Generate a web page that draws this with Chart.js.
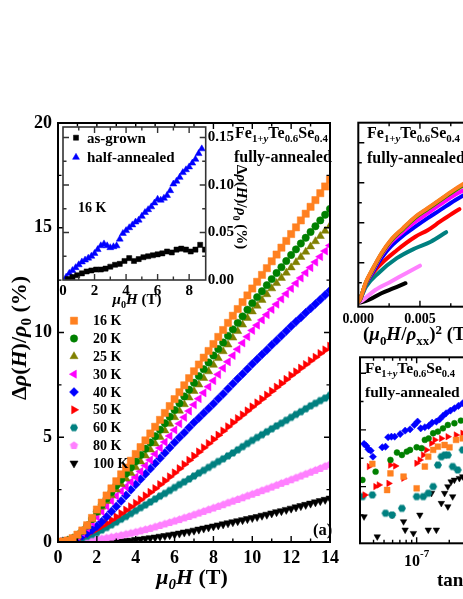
<!DOCTYPE html>
<html>
<head>
<meta charset="utf-8">
<script src="https://cdn.jsdelivr.net/npm/chart.js@4.4.0/dist/chart.umd.min.js"></script>
<style>
body { margin:0; width:463px; height:599px; overflow:hidden; position:relative; background:#fff;
  font-family:"Liberation Serif","Times New Roman",serif; font-weight:bold; }
canvas { position:absolute; }
.t { position:absolute; white-space:nowrap; line-height:1; color:#000; }
.t sub { font-size:0.68em; vertical-align:-0.36em; line-height:0; }
.t sup { font-size:0.68em; vertical-align:0.5em; line-height:0; }
</style>
</head>
<body>
<canvas id="main" width="345" height="599" style="left:0;top:0"></canvas>
<canvas id="inset" width="230" height="210" style="left:40px;top:100px"></canvas>
<canvas id="kohler" width="243" height="240" style="left:320px;top:100px"></canvas>
<canvas id="hall" width="243" height="259" style="left:320px;top:340px"></canvas>

<div class="t" style="left:19px;top:338px;font-size:22px;transform:translate(-50%,-50%) rotate(-90deg)">&Delta;<i>&rho;</i>(<i>H</i>)/<i>&rho;</i><sub>0</sub> (%)</div>
<div class="t" style="left:192px;top:566px;font-size:22px;transform:translateX(-50%)"><i>&mu;</i><sub><i>0</i></sub><i>H</i> (T)</div>
<div class="t" style="left:313px;top:522px;font-size:16.5px">(a)</div>
<div class="t" style="left:235px;top:125px;font-size:16px">Fe<sub>1+<i>y</i></sub>Te<sub>0.6</sub>Se<sub>0.4</sub></div>
<div class="t" style="left:234px;top:149px;font-size:16px">fully-annealed</div>
<div class="t" style="left:137px;top:292px;font-size:15px;transform:translateX(-50%)"><i>&mu;</i><sub>0</sub><i>H</i> (T)</div>
<div class="t" style="left:241px;top:207px;font-size:15px;transform:translate(-50%,-50%) rotate(90deg)">&Delta;<i>&rho;</i>(<i>H</i>)/<i>&rho;</i><sub>0</sub> (%)</div>
<div class="t" style="left:78px;top:201px;font-size:14px">16 K</div>
<div class="t" style="left:367px;top:125px;font-size:16px">Fe<sub>1+<i>y</i></sub>Te<sub>0.6</sub>Se<sub>0.4</sub></div>
<div class="t" style="left:367px;top:150px;font-size:16px">fully-annealed</div>
<div class="t" style="left:363px;top:324px;font-size:19px">(<i>&mu;</i><sub>0</sub><i>H</i>/<i>&rho;</i><sub>xx</sub>)<sup>2</sup> (T/&mu;&Omega; cm)<sup>2</sup></div>
<div class="t" style="left:365px;top:360px;font-size:15.5px">Fe<sub>1+<i>y</i></sub>Te<sub>0.6</sub>Se<sub>0.4</sub></div>
<div class="t" style="left:365px;top:384px;font-size:15.5px">fully-annealed</div>
<div class="t" style="left:437px;top:570px;font-size:19px">tan</div>

<script>
'use strict'
// main panel: field (T) and MR (%) for each temperature
const fieldT = [0,0.25,0.5,0.75,1,1.25,1.5,1.75,2,2.25,2.5,2.75,3,3.25,3.5,3.75,4,4.25,4.5,4.75,5,5.25,5.5,5.75,
  6,6.25,6.5,6.75,7,7.25,7.5,7.75,8,8.25,8.5,8.75,9,9.25,9.5,9.75,10,10.25,10.5,10.75,11,11.25,11.5,11.75,
  12,12.25,12.5,12.75,13,13.25,13.5,13.75,14];
const tempLabels = ['16 K','20 K','25 K','30 K','40 K','50 K','60 K','80 K','100 K'];
const r16 = [0,0.02,0.07,0.18, 0.35,0.55,0.8,1.15, 1.55,1.88,2.22,2.56, 2.9,3.23,3.55,3.88, 4.2,4.53,4.85,5.18,
  5.5,5.83,6.16,6.49, 6.82,7.15,7.48,7.82, 8.15,8.47,8.8,9.12, 9.45,9.79,10.12,10.46, 10.8,11.12,11.45,11.77,
  12.1,12.42,12.75,13.07, 13.4,13.72,14.05,14.37, 14.7,15.02,15.35,15.67, 16.0,16.32,16.65,16.97, 17.3];
const r20 = [0,0.02,0.07,0.17, 0.33,0.53,0.78,1.1, 1.45,1.77,2.08,2.39, 2.7,2.98,3.27,3.56, 3.85,4.15,4.45,4.75,
  5.05,5.36,5.67,5.98, 6.3,6.62,6.95,7.27, 7.6,7.92,8.25,8.57, 8.9,9.21,9.52,9.84, 10.15,10.46,10.77,11.09,
  11.4,11.69,11.97,12.26, 12.55,12.84,13.12,13.41, 13.7,13.97,14.25,14.52, 14.8,15.07,15.35,15.62, 15.9];
const r25 = [0,0.02,0.07,0.17, 0.32,0.52,0.77,1.07, 1.4,1.68,1.95,2.22, 2.5,2.76,3.02,3.29, 3.56,3.84,4.12,4.41,
  4.7,5.01,5.32,5.64, 5.95,6.26,6.57,6.89, 7.2,7.51,7.82,8.14, 8.45,8.77,9.1,9.42, 9.75,10.06,10.37,10.69,
  11.0,11.27,11.55,11.82, 12.1,12.35,12.6,12.85, 13.1,13.35,13.6,13.85, 14.1,14.35,14.6,14.85, 15.1];
const r30 = [0,0.02,0.06,0.15, 0.28,0.45,0.67,0.93, 1.2,1.46,1.71,1.96, 2.2,2.42,2.64,2.87, 3.1,3.37,3.65,3.92,
  4.2,4.49,4.77,5.06, 5.35,5.65,5.95,6.25, 6.55,6.84,7.12,7.41, 7.7,8.0,8.3,8.6, 8.9,9.2,9.5,9.8,
  10.1,10.35,10.6,10.85, 11.1,11.35,11.6,11.85, 12.1,12.35,12.6,12.85, 13.1,13.36,13.62,13.89, 14.15];
const r40 = [0,0.03,0.07,0.13, 0.2,0.3,0.42,0.57, 0.75,0.97,1.2,1.45, 1.7,1.96,2.22,2.49, 2.75,3.0,3.25,3.5,
  3.75,4.0,4.25,4.5, 4.75,4.99,5.22,5.46, 5.7,5.92,6.15,6.37, 6.6,6.84,7.07,7.31, 7.55,7.79,8.02,8.26,
  8.5,8.72,8.95,9.17, 9.4,9.62,9.85,10.07, 10.3,10.51,10.72,10.94, 11.15,11.36,11.57,11.79, 12.0];
const r50 = [0,0.01,0.04,0.1, 0.18,0.27,0.38,0.5, 0.62,0.76,0.9,1.05, 1.2,1.36,1.52,1.68, 1.85,2.02,2.2,2.37,
  2.55,2.74,2.92,3.11, 3.3,3.5,3.7,3.9, 4.1,4.3,4.5,4.7, 4.9,5.1,5.3,5.5, 5.7,5.89,6.07,6.26,
  6.45,6.64,6.82,7.01, 7.2,7.39,7.57,7.76, 7.95,8.12,8.3,8.47, 8.65,8.82,9.0,9.17, 9.35];
const r60 = [0,0.01,0.03,0.07, 0.12,0.19,0.27,0.36, 0.45,0.57,0.69,0.82, 0.95,1.09,1.22,1.36, 1.5,1.64,1.77,1.91,
  2.05,2.19,2.32,2.46, 2.6,2.74,2.87,3.01, 3.15,3.29,3.42,3.56, 3.7,3.84,3.97,4.11, 4.25,4.4,4.55,4.7,
  4.85,4.99,5.12,5.26, 5.4,5.54,5.67,5.81, 5.95,6.09,6.22,6.36, 6.5,6.62,6.75,6.87, 7.0];
const r80 = [0,0,0.01,0.02, 0.03,0.05,0.07,0.09, 0.12,0.15,0.19,0.23, 0.27,0.32,0.37,0.42, 0.47,0.53,0.59,0.65,
  0.72,0.79,0.86,0.93, 1.0,1.07,1.15,1.22, 1.3,1.38,1.46,1.54, 1.62,1.7,1.78,1.87, 1.95,2.03,2.11,2.2,
  2.28,2.36,2.45,2.53, 2.62,2.71,2.8,2.88, 2.97,3.06,3.15,3.24, 3.33,3.42,3.51,3.61, 3.7];
const r100 = [0,0,-0.01,-0.01, -0.01,-0.01,-0.01,0, 0,0,0.01,0.01, 0.02,0.03,0.05,0.07, 0.1,0.13,0.16,0.19,
  0.22,0.26,0.29,0.33, 0.37,0.41,0.46,0.5, 0.55,0.6,0.65,0.7, 0.75,0.8,0.85,0.9, 0.95,1.0,1.05,1.1,
  1.15,1.2,1.26,1.31, 1.37,1.43,1.48,1.54, 1.6,1.66,1.72,1.78, 1.84,1.9,1.96,2.02, 2.08];
const mainSeries = [r16, r20, r25, r30, r40, r50, r60, r80, r100];

// inset: 16 K, as-grown and half-annealed
const insetLabels = ['as-grown', 'half-annealed'];
const insetYTicks = [0, 0.025, 0.05, 0.075, 0.1, 0.125, 0.15];
const grownField = [0.3,0.6,0.9,1.2,1.5,1.8,2.1,2.4,2.7,3.0,3.3,3.6,3.9,4.2,4.5,4.8,5.1,5.4,5.7,6.0,
  6.3,6.6,6.9,7.2,7.5,7.8,8.1,8.4,8.7,9.0];
const asGrown = [0.001,0.003,0.005,0.007,0.009,0.010,0.011,0.011,0.012,0.014,0.016,0.017,0.020,0.023,0.020,
  0.022,0.024,0.025,0.026,0.027,0.028,0.030,0.029,0.032,0.033,0.032,0.030,0.032,0.037,0.032];
const halfField = [0.2,0.4,0.6,0.8,1.0,1.2,1.4,1.6,1.8,2.0,2.2,2.4,2.6,2.8,3.0,3.2,3.4,3.6,3.8,4.0,4.2,4.4,
  4.6,4.8,5.0,5.2,5.4,5.6,5.8,6.0,6.2,6.4,6.6,6.8,7.0,7.2,7.4,7.6,7.8,8.0,8.2,8.4,8.6,8.8];
const halfAnnealed = [0.003,0.007,0.010,0.013,0.016,0.019,0.021,0.023,0.025,0.028,0.032,0.036,0.038,0.036,0.034,
  0.035,0.036,0.043,0.049,0.052,0.055,0.058,0.061,0.063,0.067,0.071,0.074,0.077,0.081,0.085,0.084,0.086,
  0.089,0.094,0.101,0.104,0.108,0.113,0.116,0.119,0.123,0.127,0.133,0.138];

// upper right: MR vs (mu0H/rho_xx)^2
const kohlerX = [0,0.000125,0.000625,0.001125,0.001875,0.002625,0.003625,0.004625,0.005625,0.006625,0.00785,0.0095];
const k16 = [0.1,0.3,2.1,3.3,4.95,6.25,7.45,8.6,9.45,10.3,11.35,12.6];
const k20 = [0.1,0.3,2.05,3.25,4.9,6.2,7.4,8.55,9.4,10.25,11.3,12.5];
const k25 = [0.1,0.3,2.0,3.2,4.85,6.15,7.35,8.5,9.35,10.2,11.25,12.4];
const k30 = [0.1,0.28,1.95,3.1,4.75,6.0,7.1,8.1,8.95,9.8,10.8,11.8];
const k40 = [0.1,0.27,1.9,2.95,4.45,5.6,6.7,7.6,8.45,9.25,10.25,11.4];
const k50x = [0,0.000125,0.000625,0.001625,0.003125,0.004625,0.005625,0.006625,0.00785,0.0082];
const k50 = [0.1,0.27,1.95,3.6,5.25,6.6,7.25,8.1,9.1,9.35];
const k60x = [0,0.000125,0.000625,0.001625,0.003125,0.004625,0.005875,0.007125];
const k60 = [0.1,0.27,1.6,2.95,4.45,5.45,6.1,7.05];
const k80x = [0,0.000375,0.001375,0.002625,0.003875,0.005];
const k80 = [0,0.27,1.27,2.1,2.95,3.7];
const k100x = [0,0.00025,0.000875,0.001875,0.002875,0.003825];
const k100 = [0,0.05,0.3,0.95,1.45,1.95];

// lower right: scattered points vs tan (log axis)
const hallYTicks = [0, 1.5, 3, 4.5, 6, 7.5, 9];
const h16x = [3.9e-8,5.34e-8,5.73e-8,7.57e-8,1.0e-7,1.19e-7,1.28e-7,1.42e-7,1.57e-7,1.81e-7,2.01e-7,2.31e-7,2.66e-7];
const h16y = [4.20,2.82,3.70,3.53,2.91,4.06,4.58,4.94,5.11,5.20,5.08,5.47,5.55];
const h20x = [3.16e-8,4.18e-8,5.73e-8,6.58e-8,7.31e-8,8.11e-8,8.69e-8,1.0e-7,1.11e-7,1.19e-7,1.29e-7,1.42e-7,1.57e-7,1.75e-7,1.94e-7,2.23e-7,2.56e-7];
const h20y = [3.35,3.79,4.41,4.80,4.67,4.85,4.94,5.08,5.03,5.47,5.55,5.82,5.91,6.08,6.26,6.35,6.49];
const h40x = [3.27e-8,3.44e-8,3.59e-8,3.77e-8,3.95e-8,4.81e-8,5.16e-8,5.45e-8,5.85e-8,6.27e-8,7.05e-8,7.83e-8,8.69e-8,9.53e-8,
  1.02e-7,1.09e-7,1.19e-7,1.29e-7,1.39e-7,1.52e-7,1.63e-7,1.75e-7,1.87e-7,2.05e-7,2.23e-7,2.43e-7,2.66e-7];
const h40y = [5.26,5.15,4.97,4.90,4.58,5.08,5.11,5.61,5.64,5.64,5.78,5.96,6.03,6.26,6.44,6.08,6.14,6.21,6.38,6.44,6.56,6.74,6.88,7.02,7.14,7.27,7.41];
const h50x = [3.32e-8,3.64e-8,4.18e-8,4.49e-8,5.52e-8,5.73e-8,6.36e-8,7.57e-8,1.0e-7,1.07e-7,1.15e-7,1.23e-7,1.37e-7,1.47e-7,1.69e-7,1.94e-7,2.31e-7,2.66e-7];
const h50y = [2.56,4.06,3.0,3.09,3.17,4.14,4.09,3.44,4.23,4.41,4.67,4.94,5.29,5.47,5.55,5.64,5.73,5.82];
const h60x = [3.16e-8,3.9e-8,5.16e-8,5.93e-8,7.31e-8,1.0e-7,1.15e-7,1.28e-7,1.42e-7,1.57e-7,1.69e-7,1.81e-7,1.94e-7,2.15e-7,2.39e-7,2.66e-7];
const h60y = [2.47,2.56,1.59,1.50,1.85,2.47,2.47,2.65,3.00,4.14,4.58,4.67,4.67,4.06,3.88,4.94];
const h100x = [3.27e-8,4.33e-8,5.93e-8,7.57e-8,7.83e-8,9.33e-8,1.07e-7,1.28e-7,1.37e-7,1.52e-7,1.69e-7,1.81e-7,1.94e-7,1.94e-7,2.08e-7,2.15e-7,2.23e-7,2.48e-7,2.66e-7];
const h100y = [1.41,0.35,1.50,1.15,0.71,0.53,1.50,0.71,2.65,0.71,2.12,2.65,3.00,1.94,3.26,2.47,3.35,3.44,3.53];

const family = '"Liberation Serif", "Times New Roman", serif';
const tempColors = ['#FF8020','#008000','#808000','#FF00FF','#0000FF','#FF0000','#008080','#FF80FF','#000000'];

function polyMarker(sides, color, r, rot) {
  const c = document.createElement('canvas');
  const s = Math.ceil(r * 2 + 2);
  c.width = s; c.height = s;
  const g = c.getContext('2d');
  g.fillStyle = color;
  g.beginPath();
  for (let k = 0; k < sides; k++) {
    const a = rot + k * 2 * Math.PI / sides;
    const px = s / 2 + r * Math.cos(a), py = s / 2 + r * Math.sin(a);
    if (k) g.lineTo(px, py); else g.moveTo(px, py);
  }
  g.closePath();
  g.fill();
  return c;
}
const markerStyle = ['rect','circle','triangle','triangle','rectRot','triangle',
  polyMarker(6, '#008080', 4, 0), polyMarker(5, '#FF80FF', 4.3, -Math.PI / 2), 'triangle'];
const markerRot = [0,0,0,-90,0,90,0,0,180];
const markerRadius = [5.1,3.7,4.7,4.7,4.5,4.7,4,4.3,4.7];

function pts(xs, ys) {
  return xs.map((v, j) => ({x: v, y: ys[j]}));
}

function framePlugin(o) {
  return {
    id: 'frame',
    beforeDatasetsDraw(chart) {
      if (!o.fill) return;
      const a = chart.chartArea, g = chart.ctx;
      g.save();
      g.fillStyle = o.fill;
      g.fillRect(a.left, a.top, a.right - a.left, a.bottom - a.top);
      g.restore();
    },
    afterDraw(chart) {
      const a = chart.chartArea, g = chart.ctx, sx = chart.scales.x, sy = chart.scales.y;
      g.save();
      g.strokeStyle = o.color || '#000';
      g.lineWidth = 1.4;
      g.beginPath();
      sx.ticks.forEach(t => {
        if (o.skipX && o.skipX(t.value)) return;
        const p = sx.getPixelForValue(t.value);
        if (p < a.left + 2 || p > a.right - 2) return;
        const L = o.majorX(t.value) ? 6 : 3.5;
        g.moveTo(p, a.bottom); g.lineTo(p, a.bottom - L);
        g.moveTo(p, a.top); g.lineTo(p, a.top + L);
      });
      sy.ticks.forEach(t => {
        const p = sy.getPixelForValue(t.value);
        if (p < a.top + 2 || p > a.bottom - 2) return;
        const L = o.majorY(t.value) ? 6 : 3.5;
        g.moveTo(a.left, p); g.lineTo(a.left + L, p);
        g.moveTo(a.right, p); g.lineTo(a.right - L, p);
      });
      g.stroke();
      g.lineWidth = o.lw || 1.5;
      g.strokeRect(a.left, a.top, a.right - a.left, a.bottom - a.top);
      g.restore();
    }
  };
}

function markerLegend(o) {
  return {
    id: 'markerLegend',
    afterDraw(chart) {
      const g = chart.ctx;
      chart.data.datasets.forEach((ds, i) => {
        const y = o.top + i * o.step;
        g.save();
        g.fillStyle = ds.pointBackgroundColor;
        g.strokeStyle = ds.pointBorderColor;
        g.lineWidth = 0.5;
        Chart.helpers.drawPoint(g, {pointStyle: ds.pointStyle, radius: ds.pointRadius,
          rotation: ds.pointRotation || 0, borderWidth: 0.5}, o.markX, y);
        g.fillStyle = '#000';
        g.font = 'bold ' + o.size + 'px ' + family;
        g.textBaseline = 'middle';
        g.fillText(ds.label, o.textX, y + 1);
        g.restore();
      });
    }
  };
}

const powerLabels = {
  id: 'powerLabels',
  afterDraw(chart) {
    const sx = chart.scales.x, a = chart.chartArea, g = chart.ctx;
    g.save();
    g.fillStyle = '#000';
    sx.ticks.forEach(t => {
      const e = Math.log10(t.value);
      if (Math.abs(e - Math.round(e)) > 1e-6) return;
      const p = sx.getPixelForValue(t.value);
      if (p < a.left || p > a.right) return;
      const sup = String(Math.round(e));
      g.font = 'bold 16px ' + family;
      const w1 = g.measureText('10').width;
      g.font = 'bold 11px ' + family;
      const w2 = g.measureText(sup).width;
      const x0 = p - (w1 + w2) / 2;
      g.font = 'bold 16px ' + family;
      g.fillText('10', x0, a.bottom + 22.7);
      g.font = 'bold 11px ' + family;
      g.fillText(sup, x0 + w1, a.bottom + 14);
    });
    g.restore();
  }
};

function axis(extra) {
  return Object.assign({
    grid: {display: false, drawTicks: false},
    border: {display: false}
  }, extra);
}
function tickOpts(size, extra) {
  return Object.assign({autoSkip: false, maxRotation: 0, color: '#000',
    font: {family: family, size: size, weight: 'bold'}}, extra);
}
const baseOptions = {
  responsive: false, animation: false, devicePixelRatio: 1,
  plugins: {legend: {display: false}, tooltip: {enabled: false}}
};

// main panel
new Chart(document.getElementById('main'), {
  type: 'scatter',
  data: {
    datasets: tempLabels.map((lab, i) => ({
      label: lab,
      data: pts(fieldT, mainSeries[i]),
      pointStyle: markerStyle[i],
      pointRotation: markerRot[i],
      pointRadius: markerRadius[i],
      pointBackgroundColor: tempColors[i],
      pointBorderColor: tempColors[i],
      pointBorderWidth: 0.5
    }))
  },
  options: Object.assign({}, baseOptions, {
    layout: {padding: {top: 123, right: 12, left: 0, bottom: 0}},
    scales: {
      x: axis({type: 'linear', min: 0, max: 14, afterFit: s => { s.height = 57; },
        ticks: tickOpts(18, {stepSize: 1, padding: 6, callback: v => (v % 2 === 0 ? v : '')})}),
      y: axis({type: 'linear', min: 0, max: 20, afterFit: s => { s.width = 58; },
        ticks: tickOpts(18, {stepSize: 2.5, padding: 6, callback: v => (v % 5 === 0 ? v : '')})})
    }
  }),
  plugins: [
    framePlugin({lw: 2, majorX: v => v % 2 === 0, majorY: v => v % 5 === 0}),
    markerLegend({top: 320.7, step: 17.83, markX: 74, textX: 93, size: 14})
  ]
});

// inset
new Chart(document.getElementById('inset'), {
  type: 'scatter',
  data: {
    datasets: [
      {label: insetLabels[0], data: pts(grownField, asGrown), pointStyle: 'rect', pointRadius: 3.6,
        pointBackgroundColor: '#000000', pointBorderColor: '#000000', pointBorderWidth: 0.5},
      {label: insetLabels[1], data: pts(halfField, halfAnnealed), pointStyle: 'triangle', pointRadius: 4,
        pointBackgroundColor: '#0000FF', pointBorderColor: '#0000FF', pointBorderWidth: 0.5}
    ]
  },
  options: Object.assign({}, baseOptions, {
    layout: {padding: {top: 27, right: 0, left: 23, bottom: 0}},
    scales: {
      x: axis({type: 'linear', min: 0, max: 9.05, afterFit: s => { s.height = 30; },
        ticks: tickOpts(15, {stepSize: 1, padding: 2, callback: v => (v % 2 === 0 ? v : '')})}),
      y: axis({type: 'linear', position: 'right', min: 0, max: 0.161, afterFit: s => { s.width = 64.3; },
        afterBuildTicks: s => { s.ticks = insetYTicks.map(v => ({value: v})); },
        ticks: tickOpts(15, {padding: 2,
          callback: v => (Math.round(v * 1000) % 50 === 0 ? v.toFixed(2) : '')})})
    }
  }),
  plugins: [
    framePlugin({fill: '#fff', color: '#333', lw: 1.6, majorX: v => v % 2 === 0,
      majorY: v => Math.round(v * 1000) % 50 === 0}),
    markerLegend({top: 37.7, step: 19.6, markX: 36, textX: 47, size: 15})
  ]
});

// upper right panel
const kohlerSets = [
  [kohlerX, k16], [kohlerX, k20], [kohlerX, k25], [kohlerX, k30], [kohlerX, k40],
  [k50x, k50], [k60x, k60], [k80x, k80], [k100x, k100]
];
new Chart(document.getElementById('kohler'), {
  type: 'scatter',
  data: {
    datasets: kohlerSets.map((s, i) => ({
      label: tempLabels[i],
      data: pts(s[0], s[1]),
      showLine: true,
      borderColor: tempColors[i],
      borderWidth: 4,
      borderCapStyle: 'round',
      cubicInterpolationMode: 'monotone',
      pointRadius: 0
    }))
  },
  options: Object.assign({}, baseOptions, {
    layout: {padding: {top: 22.7, right: 4.7, left: 0, bottom: 0}},
    scales: {
      x: axis({type: 'linear', min: 0, max: 0.015, afterFit: s => { s.height = 33.3; },
        ticks: tickOpts(14, {stepSize: 0.0025, padding: 4,
          callback: v => (Math.round(v * 10000) % 50 === 0 ? v.toFixed(3) : '')})}),
      y: axis({type: 'linear', min: -0.4, max: 18, afterFit: s => { s.width = 38.3; },
        ticks: tickOpts(10, {stepSize: 2, callback: () => ''})})
    }
  }),
  plugins: [
    framePlugin({lw: 2, majorX: v => Math.round(v * 10000) % 50 === 0,
      majorY: v => Math.round(v) % 4 === 0})
  ]
});

// lower right panel
const hallSets = [[h16x, h16y, 0], [h20x, h20y, 1], [h40x, h40y, 4], [h50x, h50y, 5], [h60x, h60y, 6], [h100x, h100y, 8]];
new Chart(document.getElementById('hall'), {
  type: 'scatter',
  data: {
    datasets: hallSets.map(s => ({
      label: tempLabels[s[2]],
      data: pts(s[0], s[1]),
      pointStyle: markerStyle[s[2]],
      pointRotation: markerRot[s[2]],
      pointRadius: markerRadius[s[2]] * 0.8,
      pointBackgroundColor: tempColors[s[2]],
      pointBorderColor: tempColors[s[2]],
      pointBorderWidth: 0.5
    }))
  },
  options: Object.assign({}, baseOptions, {
    layout: {padding: {top: 17.3, right: 38, left: 0, bottom: 0}},
    scales: {
      x: axis({type: 'logarithmic', min: 3.1623e-8, max: 1e-6, afterFit: s => { s.height = 55.7; },
        ticks: tickOpts(10, {callback: () => ''})}),
      y: axis({type: 'linear', min: 0, max: 9.84, afterFit: s => { s.width = 40; },
        afterBuildTicks: s => { s.ticks = hallYTicks.map(v => ({value: v})); },
        ticks: tickOpts(10, {callback: () => ''})})
    }
  }),
  plugins: [
    framePlugin({lw: 2,
      skipX: v => { const m = v / Math.pow(10, Math.floor(Math.log10(v) + 1e-9)); return Math.abs(m - Math.round(m)) > 1e-6; },
      majorX: v => { const e = Math.log10(v); return Math.abs(e - Math.round(e)) < 1e-6; },
      majorY: v => Math.round(v * 10) % 30 === 0}),
    powerLabels
  ]
});
</script>
</body>
</html>
